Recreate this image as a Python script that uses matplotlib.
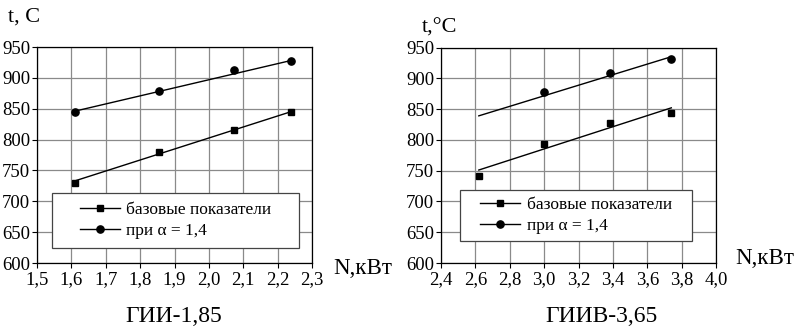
import matplotlib
matplotlib.use("Agg")
import matplotlib.pyplot as plt
from matplotlib.patches import Rectangle

plt.rcParams['font.family'] = ['Liberation Serif', 'DejaVu Serif']
plt.rcParams['mathtext.fontset'] = 'stix'

# ---- data: left chart (ГИИ-1,85)
left_x = [1.61, 1.854, 2.073, 2.238]
left_base = [730, 780, 815, 845]
left_alpha = [845, 879, 913, 927]
left_trend_x = [1.61, 2.238]
left_trend_base = [733, 845]
left_trend_alpha = [846, 928]

# ---- data: right chart (ГИИВ-3,65)
right_x_base = [2.62, 3.0, 3.383, 3.736]
right_base = [742, 794, 827, 844]
right_x_alpha = [3.0, 3.383, 3.736]
right_alpha = [877, 908, 932]
right_trend_x = [2.62, 3.74]
right_trend_base = [751, 852]
right_trend_alpha = [839, 935]

left_xticks = [1.5, 1.6, 1.7, 1.8, 1.9, 2.0, 2.1, 2.2, 2.3]
right_xticks = [2.4, 2.6, 2.8, 3.0, 3.2, 3.4, 3.6, 3.8, 4.0]
yticks = [600, 650, 700, 750, 800, 850, 900, 950]

label_base = "базовые показатели"
label_alpha = "при α = 1,4"

W, H = 794, 326
fig = plt.figure(figsize=(W / 100, H / 100), dpi=100)


def px_axes(x0, x1, y0, y1):
    return fig.add_axes([x0 / W, (H - y1) / H, (x1 - x0) / W, (y1 - y0) / H])


def style(ax, xticks):
    ax.set_xlim(xticks[0], xticks[-1])
    ax.set_ylim(600, 950)
    ax.set_xticks(xticks)
    ax.set_xticklabels([f"{t:.1f}".replace('.', ',') for t in xticks])
    ax.set_yticks(yticks)
    ax.grid(True, color='#8a8a8a', linewidth=0.9)
    ax.set_axisbelow(True)
    for s in ax.spines.values():
        s.set_color('black')
        s.set_linewidth(0.9)
    ax.tick_params(direction='out', length=3.5, width=0.8, labelsize=13.5,
                   pad=1.5, colors='black')
    ax.tick_params(axis='x', pad=2.0)


def draw(ax, xb, yb, xa, ya, tx, tb, ta, box):
    ax.plot(tx, tb, color='black', lw=1.0)
    ax.plot(tx, ta, color='black', lw=1.0)
    ax.plot(xb, yb, ls='none', marker='s', ms=4.6, color='black')
    ax.plot(xa, ya, ls='none', marker='o', ms=5.2, color='black')
    x0, y0, x1, y1 = box
    ax.add_patch(Rectangle((x0, y0), x1 - x0, y1 - y0, transform=ax.transAxes,
                           facecolor='white', edgecolor='#444444', lw=0.9, zorder=5))
    h1, = ax.plot([], [], color='black', lw=1.0, marker='s', ms=4.6)
    h2, = ax.plot([], [], color='black', lw=1.0, marker='o', ms=5.2)
    leg = ax.legend([h1, h2], [label_base, label_alpha], loc='center',
                    bbox_to_anchor=((x0 + x1) / 2, (y0 + y1) / 2),
                    frameon=False, fontsize=12.5, handlelength=2.3,
                    handletextpad=0.4, labelspacing=0.3, borderpad=0)
    leg.set_zorder(6)


axL = px_axes(37, 312, 47, 263)
style(axL, left_xticks)
draw(axL, left_x, left_base, left_x, left_alpha,
     left_trend_x, left_trend_base, left_trend_alpha,
     (0.055, 0.069, 0.953, 0.324))

axR = px_axes(441, 716, 47.5, 263)
style(axR, right_xticks)
draw(axR, right_x_base, right_base, right_x_alpha, right_alpha,
     right_trend_x, right_trend_base, right_trend_alpha,
     (0.069, 0.102, 0.913, 0.338))

# labels
fig.text(8 / W, (H - 22) / H, "t, C", fontsize=16, ha='left', va='baseline')
fig.text(422 / W, (H - 33) / H, "t,°C", fontsize=16, ha='left', va='baseline')
fig.text(333 / W, (H - 269) / H, "N,кВт", fontsize=16.5, ha='left', va='center')
fig.text(735 / W, (H - 259) / H, "N,кВт", fontsize=16.5, ha='left', va='center')
fig.text(174 / W, (H - 316) / H, "ГИИ-1,85", fontsize=17, ha='center', va='center')
fig.text(601 / W, (H - 316) / H, "ГИИВ-3,65", fontsize=17, ha='center', va='center')

fig.savefig("out.png", dpi=100, facecolor='white')
